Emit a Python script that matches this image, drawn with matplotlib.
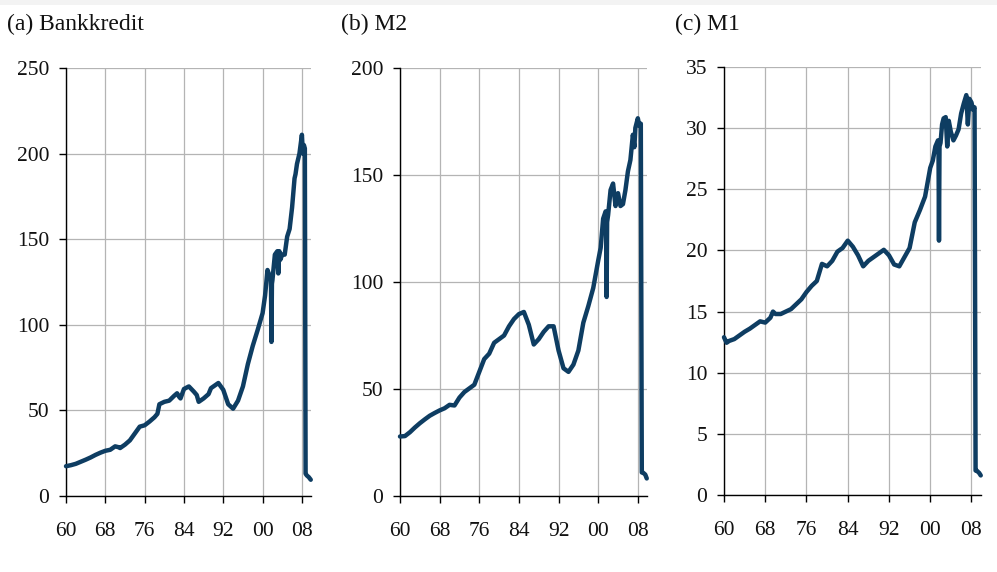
import matplotlib
matplotlib.use("Agg")
import matplotlib.pyplot as plt
from matplotlib.patches import Rectangle

# ---------------- data ----------------
years_a = [1960, 1961, 1962, 1963, 1964, 1965, 1966, 1967, 1968, 1969, 1970, 1970.7, 1971, 1972, 1973,
           1974, 1975, 1976, 1977, 1978, 1978.6, 1979, 1980, 1981, 1982, 1982.6, 1983, 1983.3, 1984, 1985,
           1986, 1986.6, 1987, 1988, 1989, 1989.5, 1990, 1991, 1992, 1993, 1994, 1995, 1996, 1997,
           1998, 1999, 2000, 2000.5, 2001, 2001.5, 2001.7, 2001.8, 2001.9, 2002, 2002.5, 2003,
           2003.2, 2003.4, 2003.6, 2004, 2004.5, 2005, 2005.5, 2006, 2006.5, 2006.7, 2007, 2007.5,
           2008, 2008.2, 2008.4, 2008.6, 2008.75, 2009, 2009.4, 2009.8]
bankkredit = [17.4, 18.0, 18.8, 20.0, 21.2, 22.5, 24.0, 25.3, 26.4, 27.0, 29.0, 28.5, 28.0, 30.0, 32.5,
              36.5, 40.5, 41.3, 43.5, 46.0, 48.0, 53.6, 55.0, 55.7, 58.5, 60.0, 58.0, 57.0, 62.5, 64.0,
              61.0, 59.0, 55.0, 57.0, 59.5, 63.0, 64.0, 66.0, 62.0, 53.6, 51.0, 55.7, 64.0, 77.0,
              87.7, 97.0, 106.8, 117.0, 132.0, 128.0, 128.0, 90.0, 124.0, 126.0, 141.0, 143.0,
              130.0, 143.0, 138.0, 141.0, 141.0, 151.5, 156.0, 168.5, 185.5, 188.0, 194.0, 200.0,
              211.0, 200.0, 205.0, 203.0, 13.0, 12.0, 11.0, 9.5]

years_b = [1960, 1961, 1962, 1963, 1964, 1965, 1966, 1967, 1968, 1969, 1970, 1971, 1972, 1973, 1974,
           1975, 1976, 1977, 1978, 1979, 1980, 1981, 1982, 1983, 1984, 1985, 1986, 1987, 1988, 1989,
           1990, 1991, 1992, 1993, 1994, 1995, 1996, 1997, 1998, 1999, 2000, 2000.5, 2001, 2001.5,
           2001.6, 2001.7, 2001.8, 2002, 2002.5, 2003, 2003.5, 2004, 2004.5, 2005, 2005.5, 2006,
           2006.5, 2007, 2007.3, 2007.5, 2008, 2008.3, 2008.6, 2008.8, 2009, 2009.5, 2009.8]
m2 = [27.8, 28.0, 29.8, 32.0, 34.0, 35.8, 37.5, 38.8, 40.0, 41.0, 42.6, 42.3, 46.0, 48.6, 50.3,
      52.0, 58.0, 64.0, 66.5, 71.6, 73.3, 75.0, 79.3, 82.7, 85.0, 86.0, 80.0, 70.8, 73.3, 76.7,
      79.3, 79.3, 68.0, 59.7, 58.0, 61.4, 68.0, 81.0, 88.7, 97.2, 110.0, 116.0, 129.6, 133.0,
      133.0, 93.0, 128.0, 131.3, 143.0, 146.0, 135.5, 141.5, 135.5, 136.4, 143.0, 151.7,
      157.0, 168.8, 163.0, 172.0, 176.5, 173.0, 174.0, 11.0, 11.0, 10.0, 8.2]

years_c = [1960, 1960.5, 1961, 1962, 1963, 1964, 1965, 1966, 1967, 1968, 1969, 1969.5, 1970, 1971,
           1972, 1973, 1974, 1975, 1976, 1977, 1978, 1979, 1980, 1981, 1982, 1983, 1984, 1985, 1986,
           1987, 1988, 1989, 1990, 1991, 1992, 1993, 1994, 1995, 1996, 1997, 1998, 1999, 2000,
           2000.5, 2001, 2001.5, 2001.6, 2001.7, 2001.8, 2002, 2002.3, 2002.6, 2003, 2003.3, 2003.6,
           2004, 2004.5, 2005, 2005.5, 2006, 2006.5, 2007, 2007.3, 2007.6, 2008, 2008.3, 2008.6,
           2008.8, 2009, 2009.5, 2009.8]
m1 = [12.9, 12.45, 12.6, 12.75, 13.05, 13.35, 13.6, 13.9, 14.2, 14.1, 14.5, 15.0, 14.8, 14.8,
      15.0, 15.2, 15.6, 16.0, 16.6, 17.1, 17.5, 18.9, 18.7, 19.15, 19.9, 20.2, 20.8, 20.3, 19.6,
      18.7, 19.15, 19.45, 19.75, 20.05, 19.6, 18.85, 18.7, 19.45, 20.2, 22.3, 23.3, 24.4, 26.75,
      27.35, 28.5, 29.0, 29.0, 20.8, 28.5, 28.8, 30.3, 30.8, 30.9, 28.5, 30.6,
      29.7, 29.0, 29.4, 29.9, 31.2, 32.0, 32.7, 30.3, 32.4, 32.1, 31.5, 31.7,
      2.0, 2.0, 1.8, 1.6]

xtick_years = [1960, 1968, 1976, 1984, 1992, 2000, 2008]
xtick_labels = ["60", "68", "76", "84", "92", "00", "08"]

titles = ["(a) Bankkredit", "(b) M2", "(c) M1"]
yticks_list = [[0, 50, 100, 150, 200, 250], [0, 50, 100, 150, 200],
               [0, 5, 10, 15, 20, 25, 30, 35]]
ylims = [(0, 250), (0, 200), (0, 35)]

# ---------------- styling ----------------
plt.rcParams["font.family"] = ["Liberation Serif", "DejaVu Serif"]
LINE = "#0e3d62"
GRID = "#b4b4b4"
FS = 15.5
FS_TITLE = 17

W, H = 997, 572
fig = plt.figure(figsize=(W / 100, H / 100), dpi=100)
fig.patch.set_facecolor("white")
fig.patches.append(Rectangle((0, 1 - 5 / H), 1, 5 / H, transform=fig.transFigure,
                             facecolor="#f3f3f3", edgecolor="none", zorder=0))

# axes boxes in pixels: left, right, top, bottom
boxes = [(66, 311, 68, 496), (400, 647, 68, 496), (724, 981, 67, 495)]
title_x = [7, 341, 675]
series = [(years_a, bankkredit), (years_b, m2), (years_c, m1)]

for i, (l, r, t, b) in enumerate(boxes):
    ax = fig.add_axes([l / W, 1 - b / H, (r - l) / W, (b - t) / H])
    xs, ys = series[i]
    ax.plot(xs, ys, color=LINE, lw=3.2, solid_joinstyle="round", solid_capstyle="round",
            zorder=3, clip_on=False)
    ax.set_xlim(1960, 2009.85)
    ax.set_ylim(*ylims[i])
    ax.set_xticks(xtick_years)
    ax.set_xticklabels(xtick_labels)
    ax.set_yticks(yticks_list[i])
    ax.grid(True, color=GRID, lw=0.9, zorder=0)
    ax.set_axisbelow(True)
    for s in ["top", "right"]:
        ax.spines[s].set_visible(False)
    for s in ["left", "bottom"]:
        ax.spines[s].set_color("black")
        ax.spines[s].set_linewidth(1.0)
    ax.tick_params(axis="both", direction="out", length=5, width=1.0, color="black",
                   labelsize=FS, labelcolor="#111111")
    ax.tick_params(axis="x", pad=13.5)
    ax.tick_params(axis="y", pad=7)
    fig.text(title_x[i] / W, 1 - 24 / H, titles[i], fontsize=FS_TITLE, va="center", ha="left",
             color="#111111")

fig.savefig("out.png", dpi=100)
